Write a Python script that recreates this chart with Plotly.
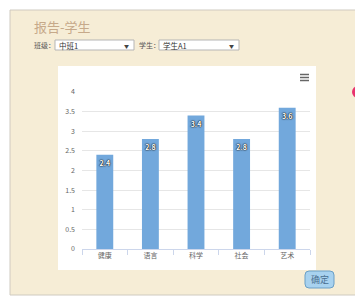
import plotly.graph_objects as go

categories = ["健康", "语言", "科学", "社会", "艺术"]
scores = [2.4, 2.8, 3.4, 2.8, 3.6]
y_ticks = [0, 0.5, 1, 1.5, 2, 2.5, 3, 3.5, 4]
y_tick_labels = ["0", "0.5", "1", "1.5", "2", "2.5", "3", "3.5", "4"]

# page body adds an 8px margin; work in reference-image pixels and shift
OFF = 8
W, H = 363, 296
L, R, T, B = 82, 310, 92, 249
FONT = "Noto Sans CJK SC, Noto Sans, sans-serif"


def px(x):
    return (x - L) / (R - L)


def py(y):
    return (B - y) / (B - T)


def rect(x0, y0, x1, y1, fill, line=None, lw=1):
    return dict(type="rect", xref="paper", yref="paper", layer="below",
                x0=px(x0), x1=px(x1), y0=py(y1), y1=py(y0),
                fillcolor=fill,
                line=dict(color=line or fill, width=lw if line else 0))


def rounded(x0, y0, x1, y1, r, fill, line):
    X0, X1 = px(x0), px(x1)
    Y0, Y1 = py(y1), py(y0)
    rx = r / (R - L)
    ry = r / (B - T)
    path = (f"M {X0+rx},{Y0} L {X1-rx},{Y0} Q {X1},{Y0} {X1},{Y0+ry} "
            f"L {X1},{Y1-ry} Q {X1},{Y1} {X1-rx},{Y1} L {X0+rx},{Y1} "
            f"Q {X0},{Y1} {X0},{Y1-ry} L {X0},{Y0+ry} Q {X0},{Y0} {X0+rx},{Y0} Z")
    return dict(type="path", xref="paper", yref="paper", layer="above",
                path=path, fillcolor=fill, line=dict(color=line, width=1))


def hline(x0, x1, y, color, w):
    return dict(type="line", xref="paper", yref="paper", layer="above",
                x0=px(x0), x1=px(x1), y0=py(y), y1=py(y),
                line=dict(color=color, width=w))


def text(x, y, s, size, color, anchor="left"):
    return dict(x=px(x), y=py(y), xref="paper", yref="paper", text=s,
                showarrow=False, xanchor=anchor, yanchor="middle",
                font=dict(family=FONT, size=size, color=color))


fig = go.Figure(go.Bar(
    x=categories, y=scores, width=0.37,
    marker=dict(color="#72a8dc", line=dict(width=0)),
    text=[f"{v:g}" for v in scores],
    textposition="inside", insidetextanchor="end",
    textfont=dict(family=FONT, size=7, color="white", weight="bold",
                  shadow="0px 0px 1px #111, 0px 0px 1px #111, 0px 0px 2px #333"),
    textangle=0,
    hoverinfo="skip",
))

shapes = [
    rect(10, 10, 380, 295, "#f6edd6", "#cfcac0", 1),
    rect(58, 66, 316, 270, "#ffffff"),
    rect(55, 40, 134, 50, "#ffffff", "#b5b5b5", 1),
    rect(159, 40, 239, 50, "#ffffff", "#b5b5b5", 1),
    hline(300, 309, 74.5, "#666666", 1.5),
    hline(300, 309, 77.5, "#666666", 1.5),
    hline(300, 309, 80.5, "#666666", 1.5),
    rounded(305, 271, 334, 288, 4, "#a8d2ef", "#6a9fc6"),
    dict(type="circle", xref="paper", yref="paper", layer="above",
         x0=px(352), x1=px(364), y0=py(98), y1=py(86),
         fillcolor="#e8336e", line=dict(width=0)),
]

annotations = [
    text(32, 26, "报告-学生", 13, "#c6a98a"),
    text(32, 45.5, "班级：", 7, "#555555"),
    text(57, 45.5, "中班1", 7.5, "#333333"),
    text(126, 45.5, "▼", 5, "#444444", "center"),
    text(137, 45.5, "学生：", 7, "#555555"),
    text(161, 45.5, "学生A1", 7.5, "#333333"),
    text(231, 45.5, "▼", 5, "#444444", "center"),
    text(319.5, 279.5, "确定", 9, "#4a6f90", "center"),
]

fig.update_layout(
    width=W, height=H,
    margin=dict(l=L - OFF, r=W - (R - OFF), t=T - OFF, b=H - (B - OFF), pad=0),
    paper_bgcolor="#ffffff",
    plot_bgcolor="rgba(0,0,0,0)",
    showlegend=False,
    shapes=shapes,
    annotations=annotations,
    font=dict(family=FONT, size=7, color="#666666"),
    xaxis=dict(
        type="category", showgrid=False, zeroline=False,
        showline=True, linecolor="#ccd6eb", linewidth=1,
        ticks="outside", tickson="boundaries", ticklen=5,
        tickcolor="#ccd6eb", tickwidth=1,
        tickfont=dict(family=FONT, size=7, color="#666666"),
        fixedrange=True,
    ),
    yaxis=dict(
        range=[0, 4], tickvals=y_ticks, ticktext=y_tick_labels,
        showgrid=True, gridcolor="#e6e6e6", gridwidth=1,
        zeroline=False, showline=False, ticks="",
        ticklabelstandoff=6,
        tickfont=dict(family=FONT, size=7, color="#666666"),
        fixedrange=True,
    ),
)

fig.write_html("out.html", config={"displayModeBar": False})
